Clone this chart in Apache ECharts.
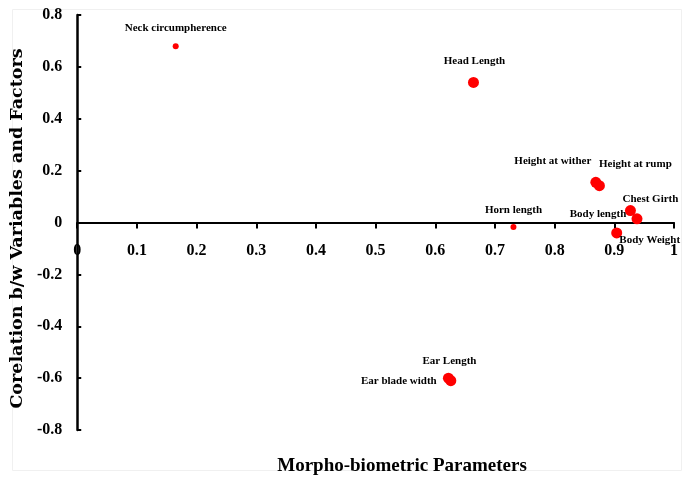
<!DOCTYPE html>
<html>
<head>
<meta charset="utf-8">
<script src="https://cdn.jsdelivr.net/npm/echarts@6/dist/echarts.min.js"></script>
<style>
  html, body { margin: 0; padding: 0; background: #fff; }
  #main { width: 683px; height: 477px; }
</style>
</head>
<body>
<div id="main"></div>
<script>
    var names = ['Neck circumpherence', 'Head Length', 'Height at wither', 'Height at rump', 'Chest Girth',
        'Body length', 'Body Weight', 'Horn length', 'Ear Length', 'Ear blade width'];
    var xVals = [0.165, 0.664, 0.869, 0.875, 0.927, 0.938, 0.904, 0.731, 0.622, 0.626];
    var yVals = [0.68, 0.54, 0.155, 0.142, 0.046, 0.014, -0.04, -0.017, -0.600, -0.610];
    var xTicks = [0, 0.1, 0.2, 0.3, 0.4, 0.5, 0.6, 0.7, 0.8, 0.9, 1];
    var yTicks = [-0.8, -0.6, -0.4, -0.2, 0, 0.2, 0.4, 0.6, 0.8];

    // label placement (px offset from the dot) and dot sizes
    var labelOffset = {
        'Neck circumpherence': [0, -18],
        'Head Length': [1, -21],
        'Height at wither': [-43, -21],
        'Height at rump': [36, -22],
        'Chest Girth': [20, -11],
        'Body length': [-39, -5],
        'Body Weight': [33, 7],
        'Horn length': [0, -17],
        'Ear Length': [1, -17],
        'Ear blade width': [-52, 0]
    };
    var smallDots = ['Neck circumpherence', 'Horn length'];

    var serif = '"Liberation Serif", "Times New Roman", serif';

    var points = names.map(function (n, i) {
        return {
            name: n,
            value: [xVals[i], yVals[i]],
            symbolSize: smallDots.indexOf(n) >= 0 ? 6 : 11,
            label: { offset: labelOffset[n] }
        };
    });

    var myChart = echarts.init(document.getElementById('main'));
    var option = {
        backgroundColor: '#fff',
        animation: false,
        graphic: [{
            type: 'rect',
            shape: { x: 12.5, y: 9.5, width: 669, height: 461 },
            style: { fill: 'none', stroke: '#f0f0f0', lineWidth: 1 },
            silent: true,
            z: -1
        }],
        title: {
            text: 'Morpho-biometric Parameters',
            left: 397,
            top: 452,
            textAlign: 'center',
            textStyle: { fontFamily: serif, fontWeight: 'bold', fontSize: 19, color: '#000' }
        },
        grid: { left: 73, right: 9, top: 15, bottom: 47, containLabel: false },
        xAxis: {
            type: 'value',
            min: xTicks[0],
            max: xTicks[xTicks.length - 1],
            interval: 0.1,
            position: 'bottom',
            offset: -207.5,   // puts the axis on y = 0
            splitLine: { show: false },
            axisLine: { onZero: false, lineStyle: { color: '#000', width: 2 } },
            axisTick: { show: true, length: 6, lineStyle: { color: '#000', width: 2 } },
            axisLabel: {
                margin: 20,
                color: '#000',
                fontFamily: serif,
                fontWeight: 'bold',
                fontSize: 16
            }
        },
        yAxis: {
            type: 'value',
            min: yTicks[0],
            max: yTicks[yTicks.length - 1],
            interval: 0.2,
            name: 'Corelation b/w Variables and Factors',
            nameLocation: 'middle',
            nameGap: 51,
            nameTextStyle: {
                fontFamily: '"DejaVu Serif", serif', fontWeight: 'bold', fontSize: 17.5, color: '#000',
                padding: [0, 12, 0, 0]
            },
            splitLine: { show: false },
            axisLine: { onZero: false, lineStyle: { color: '#000', width: 2.5 } },
            axisTick: { show: true, inside: true, length: 4, lineStyle: { color: '#000', width: 2 } },
            axisLabel: {
                margin: 15,
                color: '#000',
                fontFamily: serif,
                fontWeight: 'bold',
                fontSize: 16
            }
        },
        series: [{
            type: 'scatter',
            data: points,
            itemStyle: { color: '#ff0000', opacity: 1 },
            label: {
                show: true,
                position: 'inside',
                formatter: '{b}',
                color: '#000',
                fontFamily: serif,
                fontWeight: 'bold',
                fontSize: 11
            }
        }]
    };
    myChart.setOption(option);
</script>
</body>
</html>
